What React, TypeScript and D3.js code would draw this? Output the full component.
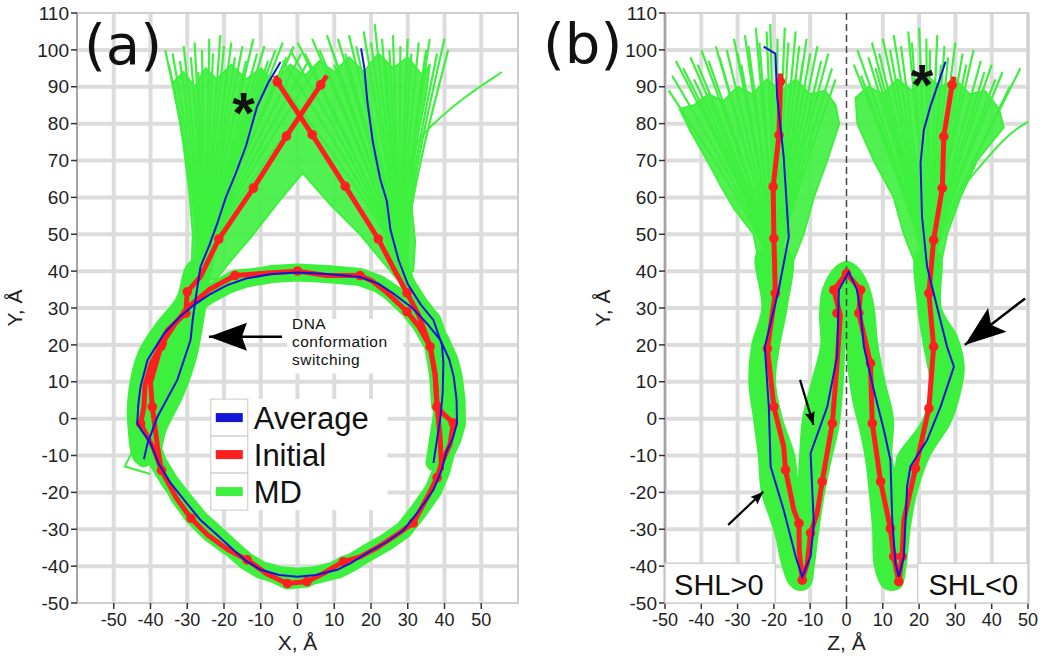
import React from 'react';
import * as d3 from 'd3';

type P = [number, number];

// ---- axes / ticks ----
const xTicksA = [-50, -40, -30, -20, -10, 0, 10, 20, 30, 40, 50];
const zTicksB = [-50, -40, -30, -20, -10, 0, 10, 20, 30, 40, 50];
const yTicks = [-50, -40, -30, -20, -10, 0, 10, 20, 30, 40, 50, 60, 70, 80, 90, 100, 110];
const legendLabels = ['Average', 'Initial', 'MD'];

// ---- panel (a): X-Y projection ----
const ringAvgA: P[] = [
  [0, 39.6], [8, 39.2], [17, 38.4], [22, 36.6], [26, 34], [31.5, 29.8], [35.5, 25.5], [38.9, 21.3],
  [41.3, 16], [42.5, 11.4], [43.3, 5], [43.4, -1.3], [42.2, -5.5], [40.5, -9], [39.2, -14], [37, -19.3],
  [33, -25], [28.9, -30.2], [24, -33.6], [19, -36.4], [14.5, -39.2], [10.8, -41], [5, -42.4], [0, -42.9],
  [-5, -42.4], [-10, -41], [-14, -38.6], [-17.4, -35.6], [-22, -31.4], [-26.4, -27.5], [-30.5, -22.5],
  [-34.5, -17.5], [-37.8, -12.2], [-40, -6.6], [-42.6, -3], [-43.6, -1.2], [-43.3, 4], [-42.7, 8.7],
  [-40.8, 15.9], [-36.3, 23.1], [-32, 27.6], [-28.2, 30.8], [-24, 33.6], [-19.1, 36.2], [-14, 38], [-7, 39.2],
];
const ringInitA: P[] = [
  [0, 40], [8, 38.8], [17, 38.8], [20, 37.5], [24, 34.5], [29.8, 29], [33, 25], [36.1, 19.5], [37.4, 12],
  [38, 3.2], [40, 1], [42.4, -1.2], [41.5, -7], [39.2, -12], [38, -16], [35.5, -21], [31.5, -28.3],
  [27, -31.5], [22, -34.8], [17, -37.5], [12.5, -38.8], [7, -42], [2.6, -44.2], [-2.8, -44.7], [-8, -42.3],
  [-13.7, -38.3], [-19, -35.5], [-24.5, -31.5], [-29, -27], [-33, -21.5], [-37, -14], [-39.2, -8],
  [-42.7, -1.3], [-41.8, 3], [-41.5, 9], [-39.8, 15], [-36.8, 20.4], [-33.5, 25.5], [-29.5, 30.5],
  [-24, 35], [-17, 38.8], [-8, 39.5],
];
const ringInitDotsA: P[] = [
  [0, 40], [17, 38.8], [-17, 38.8], [29.8, 29], [36.1, 19.5], [38, 3.2], [42.4, -1.2], [38, -16],
  [31.5, -28.3], [12.5, -38.8], [2.6, -44.2], [-2.8, -44.7], [-13.7, -38.3], [-29, -27], [-37, -14],
  [-42.7, -1.3], [-36.8, 20.4],
];
const armInitLeftA: P[] = [
  [8, 93], [6.3, 90.5], [-3, 76.6], [-12, 62.5], [-21.4, 48.7], [-26.4, 38.5], [-30, 34.4], [-30.4, 28.6],
  [-35.4, 24], [-37.2, 19.5], [-40, 9.7], [-39.5, 3.2], [-38.1, -7.6], [-37, -14],
];
const armInitRightA: P[] = [
  [-6, 93], [-5.5, 91.3], [4, 77], [13, 63], [22, 48.7], [26, 41], [29.8, 34.1], [33, 28], [36.1, 19.5],
  [37.5, 12], [38, 3.2], [38.8, -5], [39.2, -14],
];
const armInitDotsA: P[] = [
  [6.3, 90.5], [-3, 76.6], [-12, 62.5], [-21.4, 48.7], [-30, 34.4], [-30.4, 28.6], [-37.2, 19.5], [-39.5, 3.2],
  [-5.5, 91.3], [4, 77], [13, 63], [22, 48.7], [29.8, 34.1], [38, 3.2],
];
const armAvgLeftA: P[] = [
  [-4.6, 96.7], [-8, 91], [-11, 84.6], [-14, 74], [-16.8, 66.5], [-19.5, 60], [-21.8, 53], [-24, 47],
  [-26.4, 41.2], [-27.5, 34], [-28.5, 27], [-29.1, 21.3], [-32.7, 10.5], [-38.1, 0.5], [-40.8, -6.7], [-41.8, -11],
];
const armAvgRightA: P[] = [
  [17.3, 100.4], [18.2, 95], [19, 86], [20.5, 75], [22.5, 65], [24.3, 59], [25.3, 51.2], [27.5, 43],
  [30, 36.5], [33.5, 31], [37, 26.7], [39.3, 20], [39.7, 15], [39.5, 7], [38.9, 0.4], [37, -12],
];
// MD spread between ring and left arm
const mdArmLeftA: P[] = [
  [-44, -12], [-46.3, -2], [-46, 8], [-43.5, 18], [-38.5, 26], [-33, 33], [-30, 42], [-23, 45], [-24, 36],
  [-25.5, 26], [-27.5, 16], [-31, 6], [-35.5, -3], [-38.5, -12],
];
// dense part of the two linker fans (outline, with the white gap below the crossing)
const mdFanA: P[] = [
  [-29, 36], [-28.5, 50], [-29.5, 62], [-31, 74], [-32.5, 84], [-34, 91], [-31, 94], [-28, 90], [-25, 95],
  [-22, 92], [-18, 96], [-14, 92], [-10, 95], [-6, 91], [-2, 96], [2, 93], [6, 97], [10, 94], [14, 98],
  [18, 94], [22, 99], [26, 95], [30, 98], [34, 93], [36, 96], [35, 88], [33, 78], [31.5, 68], [31, 58],
  [32, 48], [31.5, 40], [27, 38], [22, 44], [17, 50], [9, 58], [1.4, 66.6], [-5, 59], [-12, 50], [-18, 43],
  [-22, 38],
];
const mdOutlierA: P[] = [[-43, -5], [-47, -13], [-40, -15]];
const mdStrayA: P[] = [[30, 68], [32.5, 75.6], [37, 80], [45, 87], [55.6, 94]];
// MD fans: strands from the arm base to the tips
const fanBaseLeftA: P[] = [[-31, 28], [-25, 48]];
const fanBaseRightA: P[] = [[32, 28], [27.5, 48]];
const fanTipsLeftA: P[] = [
  [-36, 100], [-35, 96], [-34, 99], [-32, 97], [-31, 101], [-29, 98], [-28, 102], [-26, 100], [-24, 103],
  [-23, 99], [-21, 104], [-20, 101], [-18, 102], [-17, 98], [-15, 101], [-14, 97], [-12, 103], [-11, 99],
  [-9, 101], [-8, 97], [-6, 100], [-4, 102], [-3, 98], [-1, 101], [1, 99], [3, 97], [5, 95], [8, 93],
  [-19, 95], [-27, 94], [-10, 94],
];
const fanTipsRightA: P[] = [
  [-6, 93], [-4, 97], [-2, 100], [0, 102], [2, 99], [4, 103], [6, 100], [8, 104], [9, 101], [11, 103],
  [13, 99], [14, 104], [16, 101], [18, 105], [20, 102], [21, 107], [23, 103], [25, 100], [26, 104],
  [28, 101], [30, 103], [31, 99], [33, 102], [35, 100], [36, 103], [38, 99], [40, 103], [41, 100],
  [10, 96], [24, 97],
];

// ---- panel (b): Z-Y projection ----
const avgB: P[] = [
  [-22.8, 100.9], [-19.6, 99], [-19.1, 87.3], [-17.3, 71], [-15.9, 49.3], [-18.7, 34.9], [-22.5, 19.5],
  [-21.4, 3.2], [-20.9, -13], [-17.3, -24.8], [-14, -37.4], [-12.2, -42.9], [-9.9, -37.4], [-9, -28.4],
  [-9.9, -9.4], [-5.3, 3.2], [-2.6, 16.8], [-2.1, 34.9], [0.6, 39.8], [2.9, 34.9], [3.9, 28.6], [4.8, 19.5],
  [7.5, 7.8], [10.3, -3.1], [12.1, -11.2], [12.6, -27.5], [13.5, -39.2], [14.4, -42.9], [15.8, -37.4],
  [16.7, -18.4], [17.6, -13], [22.2, -5.8], [25.9, 3.2], [29.6, 14.1], [27.7, 19.5], [23.1, 37.6],
  [22.2, 41.2], [20.8, 54.8], [20.4, 69.2], [21.3, 78.3], [23.1, 84.6], [27.3, 96.8],
];
const initB: P[] = [
  [-18.2, 93.6], [-18.2, 91.4], [-18.6, 76.9], [-20.2, 62.9], [-20, 48.9], [-19.6, 34], [-21.8, 19],
  [-20, 3.2], [-17.3, -7.6], [-16.8, -13.9], [-14.5, -24.8], [-13.1, -28.4], [-13, -36], [-12.2, -43.8],
  [-10.8, -39.2], [-9.9, -31], [-8.1, -25.7], [-6.7, -17.1], [-3.9, -1.3], [-2.6, 15], [-1.7, 28],
  [-3.5, 34.9], [0, 39.4], [3.9, 34.9], [3.4, 28.6], [6.6, 15], [7.1, -1.3], [9.4, -17.1], [12.1, -29.8],
  [13, -37.4], [14.4, -44.2], [15.3, -37.4], [15.8, -27.5], [19, -13.5], [22.7, 2.8], [24, 19.5],
  [22.7, 34], [24, 48.4], [26.4, 62.5], [26.8, 76.5], [29.1, 90.5], [29.6, 92.7],
];
const initDotsB: P[] = [
  [-18.2, 91.4], [-18.6, 76.9], [-20.2, 62.9], [-20, 48.9], [-19.6, 34], [-21.8, 19], [-20, 3.2],
  [-16.8, -13.9], [-13.1, -28.4], [-12.2, -43.8], [-9.9, -31], [-6.7, -17.1], [-3.9, -1.3], [-3.5, 34.9],
  [-2.6, 28.6], [0, 39.4], [3.9, 34.9], [3.4, 28.6], [6.6, 15], [7.1, -1.3], [9.4, -17.1], [12.1, -29.8],
  [13, -37.4], [14.4, -44.2], [15.3, -37.4], [19, -13.5], [22.7, 2.8], [24, 19.5], [22.7, 34], [24, 48.4],
  [26.4, 62.5], [26.8, 76.5], [29.1, 90.5],
];
// MD envelope of the lower W-shaped part
const mdBodyB: P[] = [
  [-24.5, 45], [-23.2, 30], [-26, 20], [-26.8, 10], [-25.5, 0], [-24.2, -10], [-23.3, -20], [-21, -27],
  [-19.4, -32], [-17.6, -40], [-15.5, -45], [-12.5, -46.5], [-10, -45], [-9, -40], [-8, -32], [-6.5, -22],
  [-4.5, -12], [-2.2, -2], [-1, 10], [-0.3, 24], [0.5, 14], [1.8, 5], [4, -4], [5.5, -12], [6.4, -20],
  [7.3, -30], [7.8, -40], [10, -45.5], [12.5, -46.5], [15, -45.5], [16.3, -40], [17.4, -30], [19.3, -20],
  [22.9, -10], [28.6, -1], [31.5, 8], [32.3, 14], [30.5, 22], [26, 30], [25.5, 45], [19.5, 45], [19.5, 32],
  [21.3, 20], [23, 10], [21.3, 0], [14.2, -10], [13.3, -14], [12.4, -10], [12.8, 0], [10.5, 10], [8.5, 20],
  [7.5, 30], [6, 36], [3, 41], [0, 42.5], [-3, 41], [-6.5, 35], [-7.3, 28], [-7, 20], [-9.5, 10], [-12, 0],
  [-12.8, -10], [-13.4, -18], [-14.4, -10], [-17.8, 0], [-19.7, 10], [-18.5, 20], [-16.5, 30], [-15.5, 45],
];
// dense part of the fans
const mdFanLeftB: P[] = [
  [-24, 42], [-25.6, 50], [-31, 57], [-34, 62], [-38.4, 70], [-43, 78], [-46, 84], [-42, 85], [-38, 88],
  [-34, 86], [-30, 90], [-26, 88], [-22, 92], [-18, 89], [-14, 92], [-10, 88], [-6, 89], [-3, 85], [-2, 80],
  [-5.3, 70], [-9, 60], [-11.8, 50], [-15, 42],
];
const mdFanRightB: P[] = [
  [19, 42], [15.8, 50], [13, 60], [7.5, 70], [3, 80], [2.5, 87], [6, 90], [10, 88], [14, 92], [18, 89],
  [22, 93], [26, 90], [30, 92], [34, 88], [38, 89], [42, 84], [43.3, 79], [36, 70], [31.4, 60], [27.7, 50],
  [26, 42],
];
const mdStrayB: P[] = [[33, 64], [39, 71], [45, 77.5], [50, 80.5]];
const fanBaseLeftB: P[] = [[-20, 30], [-19.5, 45]];
const fanBaseRightB: P[] = [[22.5, 30], [22.5, 45]];
const fanTipsLeftB: P[] = [
  [-49, 89], [-48, 93], [-47, 97], [-45, 95], [-43, 98], [-41, 96], [-40, 100], [-38, 97], [-36, 101],
  [-35, 98], [-33, 100], [-31, 103], [-30, 99], [-28, 104], [-27, 101], [-25, 106], [-24, 102], [-22, 105],
  [-21, 107], [-19, 103], [-17, 106], [-16, 102], [-14, 105], [-13, 101], [-11, 103], [-10, 99], [-8, 101],
  [-7, 97], [-5, 99], [-4, 95], [-3, 92], [-12, 97], [-29, 96], [-42, 92],
];
const fanTipsRightB: P[] = [
  [2, 96], [3, 100], [4, 93], [6, 98], [7, 102], [9, 99], [10, 103], [12, 100], [13, 104], [15, 101],
  [17, 105], [18, 102], [20, 106], [22, 103], [23, 100], [25, 104], [27, 101], [28, 98], [30, 102],
  [32, 99], [33, 96], [35, 100], [37, 97], [38, 94], [40, 96], [41, 92], [43, 94], [45, 90], [47.9, 95],
  [8, 95], [26, 96],
];

const GREEN = '#3ef03e';
const RED = '#ff1f1f';
const BLUE = '#1515d8';
const GRID = '#dcdcdc';
const FONT = 'Liberation Sans, Arial, sans-serif';

const y = d3.scaleLinear().domain([-50, 110]).range([603, 13]);
const xA = d3.scaleLinear().domain([-60, 60]).range([77, 518]);
const zB = d3.scaleLinear().domain([-50, 50]).range([665, 1028]);

function arrowHead(tip: P, tail: P, len: number, half: number, notch: number) {
  const dx = tail[0] - tip[0];
  const dy = tail[1] - tip[1];
  const l = Math.hypot(dx, dy);
  const ux = dx / l, uy = dy / l;
  const px = -uy, py = ux;
  const b = [tip[0] + ux * len, tip[1] + uy * len];
  const n = [tip[0] + ux * notch, tip[1] + uy * notch];
  return `M${tip[0]},${tip[1]}L${b[0] + px * half},${b[1] + py * half}L${n[0]},${n[1]}L${b[0] - px * half},${b[1] - py * half}Z`;
}

function Arrow({ tip, tail, len, half, notch, width }: { tip: P; tail: P; len: number; half: number; notch: number; width: number }) {
  return (
    <g>
      <line x1={tail[0]} y1={tail[1]} x2={tip[0]} y2={tip[1]} stroke="#000" strokeWidth={width} />
      <path d={arrowHead(tip, tail, len, half, notch)} fill="#000" />
    </g>
  );
}

function Frame({ x, ticks, gridX, title, ylabelX }: { x: any; ticks: number[]; gridX: number[]; title: string; ylabelX: number }) {
  const [x0, x1] = x.range();
  return (
    <g>
      {gridX.map((v) => (
        <line key={'gx' + v} x1={x(v)} x2={x(v)} y1={y(110)} y2={y(-50)} stroke={GRID} strokeWidth={4} />
      ))}
      {yTicks.slice(1, -1).map((v) => (
        <line key={'gy' + v} x1={x0} x2={x1} y1={y(v)} y2={y(v)} stroke={GRID} strokeWidth={4} />
      ))}
      <rect x={x0} y={y(110)} width={x1 - x0} height={y(-50) - y(110)} fill="none" stroke="#cfcfcf" strokeWidth={2} />
      <line x1={x0} x2={x0} y1={y(110)} y2={y(-50)} stroke="#888" strokeWidth={1.2} />
      {yTicks.map((v) => (
        <g key={'yt' + v}>
          <line x1={x0 - 6} x2={x0} y1={y(v)} y2={y(v)} stroke="#333" strokeWidth={1.5} />
          <text x={x0 - 8} y={y(v)} dy="0.35em" textAnchor="end" fontSize={19} fontFamily={FONT} fill="#222">{v}</text>
        </g>
      ))}
      {ticks.map((v) => (
        <g key={'xt' + v}>
          <line x1={x(v)} x2={x(v)} y1={y(-50)} y2={y(-50) + 6} stroke="#333" strokeWidth={1.5} />
          <text x={x(v)} y={626} textAnchor="middle" fontSize={18} fontFamily={FONT} fill="#222">{v}</text>
        </g>
      ))}
      <text x={(x0 + x1) / 2} y={650} textAnchor="middle" fontSize={21} fontFamily={FONT} fill="#222">{title}</text>
      <text transform={`translate(${ylabelX},${(y(110) + y(-50)) / 2}) rotate(-90)`} textAnchor="middle" fontSize={21} fontFamily={FONT} fill="#222">Y, Å</text>
    </g>
  );
}

export default function App() {
  const lineA = d3.line<P>().x((d) => xA(d[0])).y((d) => y(d[1]));
  const ringA = d3.line<P>().x((d) => xA(d[0])).y((d) => y(d[1])).curve(d3.curveLinearClosed);
  const blobA = d3.line<P>().x((d) => xA(d[0])).y((d) => y(d[1])).curve(d3.curveCatmullRomClosed);
  const strandA = d3.line<P>().x((d) => xA(d[0])).y((d) => y(d[1])).curve(d3.curveBasis);
  const lineB = d3.line<P>().x((d) => zB(d[0])).y((d) => y(d[1]));
  const blobB = d3.line<P>().x((d) => zB(d[0])).y((d) => y(d[1])).curve(d3.curveCatmullRomClosed);
  const polyB = d3.line<P>().x((d) => zB(d[0])).y((d) => y(d[1])).curve(d3.curveLinearClosed);
  const strandB = d3.line<P>().x((d) => zB(d[0])).y((d) => y(d[1])).curve(d3.curveBasis);

  const legendRows = [BLUE, RED, GREEN];
  const legendTop = y(5.3);
  const rowH = 37;

  return (
    <svg width={1050} height={660} style={{ position: 'absolute', left: 0, top: 0, background: '#fff' }}>
      {/* ---------- panel (a) ---------- */}
      <Frame x={xA} ticks={xTicksA} gridX={xTicksA} title="X, Å" ylabelX={22} />
      <g>
        <path d={ringA(ringAvgA) || ''} fill="none" stroke={GREEN} strokeWidth={18} strokeLinejoin="round" />
        <path d={ringA(ringInitA) || ''} fill="none" stroke={GREEN} strokeWidth={12} strokeLinejoin="round" />
        <path d={blobA(mdArmLeftA) || ''} fill={GREEN} />
        <path d={ringA(mdFanA) || ''} fill={GREEN} fillOpacity={0.9} stroke={GREEN} strokeWidth={2} strokeLinejoin="round" />
        <path d={lineA(armAvgLeftA.slice(5)) || ''} fill="none" stroke={GREEN} strokeWidth={16} strokeLinecap="round" strokeLinejoin="round" />
        <path d={lineA(armAvgRightA.slice(6)) || ''} fill="none" stroke={GREEN} strokeWidth={16} strokeLinecap="round" strokeLinejoin="round" />
        <path d={lineA(mdOutlierA) || ''} fill="none" stroke={GREEN} strokeWidth={2} />
        <path d={strandA(mdStrayA) || ''} fill="none" stroke={GREEN} strokeWidth={2} />
        {fanTipsLeftA.map((t, i) => (
          <path key={'fla' + i} d={strandA([fanBaseLeftA[0], fanBaseLeftA[1], t]) || ''} fill="none" stroke={GREEN} strokeWidth={2.2} />
        ))}
        {fanTipsRightA.map((t, i) => (
          <path key={'fra' + i} d={strandA([fanBaseRightA[0], fanBaseRightA[1], t]) || ''} fill="none" stroke={GREEN} strokeWidth={2.2} />
        ))}
      </g>
      <g>
        <path d={ringA(ringInitA) || ''} fill="none" stroke={RED} strokeWidth={5} strokeLinejoin="round" />
        <path d={lineA(armInitLeftA) || ''} fill="none" stroke={RED} strokeWidth={5} strokeLinejoin="round" />
        <path d={lineA(armInitRightA) || ''} fill="none" stroke={RED} strokeWidth={5} strokeLinejoin="round" />
        {[...ringInitDotsA, ...armInitDotsA].map((d, i) => (
          <circle key={'rda' + i} cx={xA(d[0])} cy={y(d[1])} r={4.8} fill={RED} />
        ))}
      </g>
      <g>
        <path d={ringA(ringAvgA) || ''} fill="none" stroke={BLUE} strokeWidth={2} />
        <path d={lineA(armAvgLeftA) || ''} fill="none" stroke={BLUE} strokeWidth={2} />
        <path d={lineA(armAvgRightA) || ''} fill="none" stroke={BLUE} strokeWidth={2} />
      </g>
      {/* legend */}
      <rect x={xA(-23.6)} y={legendTop} width={xA(24.5) - xA(-23.6)} height={rowH * 3} fill="#fff" />
      {legendRows.map((c, i) => (
        <g key={'lg' + i}>
          <rect x={xA(-23.6)} y={legendTop + i * rowH} width={37} height={rowH} fill="#fff" stroke="#c8c8c8" strokeWidth={1} />
          <line x1={xA(-23.6) + 5} x2={xA(-23.6) + 32} y1={legendTop + i * rowH + rowH / 2} y2={legendTop + i * rowH + rowH / 2} stroke={c} strokeWidth={9} />
          <text x={xA(-23.6) + 43} y={legendTop + i * rowH + rowH / 2 + 11} fontSize={31} fontFamily={FONT} fill="#111">{legendLabels[i]}</text>
        </g>
      ))}
      {/* annotation */}
      <rect x={xA(-2.8)} y={y(27)} width={xA(28.8) - xA(-2.8)} height={y(12.2) - y(27)} fill="#fff" />
      <text x={xA(-1.5)} y={329} fontSize={15.5} letterSpacing={0.5} fontFamily={FONT} fill="#111">
        <tspan x={xA(-1.5)}>DNA</tspan>
        <tspan x={xA(-1.5)} dy={18}>conformation</tspan>
        <tspan x={xA(-1.5)} dy={18}>switching</tspan>
      </text>
      <Arrow tip={[xA(-24.1), y(22.2)]} tail={[xA(-4.2), y(22.2)]} len={38} half={14} notch={33} width={2.5} />
      <text x={xA(-14.7)} y={y(86.4) + 33} textAnchor="middle" fontSize={58} fontWeight="bold" fontFamily={FONT} fill="#111">*</text>
      <text x={84} y={64} fontSize={56} fontFamily="DejaVu Sans, sans-serif" fill="#111">(a)</text>

      {/* ---------- panel (b) ---------- */}
      <Frame x={zB} ticks={zTicksB} gridX={zTicksB.filter((v) => v !== 0)} title="Z, Å" ylabelX={610} />
      <g>
        <path d={blobB(mdBodyB) || ''} fill={GREEN} stroke={GREEN} strokeWidth={2} />
        <path d={polyB(mdFanLeftB) || ''} fill={GREEN} fillOpacity={0.9} stroke={GREEN} strokeWidth={2} strokeLinejoin="round" />
        <path d={polyB(mdFanRightB) || ''} fill={GREEN} fillOpacity={0.9} stroke={GREEN} strokeWidth={2} strokeLinejoin="round" />
        <path d={strandB(mdStrayB) || ''} fill="none" stroke={GREEN} strokeWidth={2} />
        {fanTipsLeftB.map((t, i) => (
          <path key={'flb' + i} d={strandB([fanBaseLeftB[0], fanBaseLeftB[1], t]) || ''} fill="none" stroke={GREEN} strokeWidth={2.2} />
        ))}
        {fanTipsRightB.map((t, i) => (
          <path key={'frb' + i} d={strandB([fanBaseRightB[0], fanBaseRightB[1], t]) || ''} fill="none" stroke={GREEN} strokeWidth={2.2} />
        ))}
      </g>
      <line x1={zB(0)} x2={zB(0)} y1={y(110)} y2={y(-50)} stroke="#444" strokeWidth={1.5} strokeDasharray="7,4" />
      <path d={lineB(initB) || ''} fill="none" stroke={RED} strokeWidth={5} strokeLinejoin="round" />
      {initDotsB.map((d, i) => (
        <circle key={'rdb' + i} cx={zB(d[0])} cy={y(d[1])} r={4.8} fill={RED} />
      ))}
      <path d={lineB(avgB) || ''} fill="none" stroke={BLUE} strokeWidth={2} />
      <rect x={zB(-50)} y={y(-39.2)} width={zB(-19.6) - zB(-50)} height={y(-50) - y(-39.2)} fill="#fff" stroke="#d0d0d0" strokeWidth={1.5} />
      <rect x={zB(19.6)} y={y(-39.2)} width={zB(50) - zB(19.6)} height={y(-50) - y(-39.2)} fill="#fff" stroke="#d0d0d0" strokeWidth={1.5} />
      <text x={zB(-47.5)} y={595} fontSize={29} fontFamily={FONT} fill="#111">SHL&gt;0</text>
      <text x={zB(22.6)} y={595} fontSize={29} fontFamily={FONT} fill="#111">SHL&lt;0</text>
      <Arrow tip={[zB(32.6), y(20)]} tail={[zB(49.2), y(32.6)]} len={41} half={15} notch={33} width={2.5} />
      <Arrow tip={[zB(-9.1), y(-1.7)]} tail={[zB(-12.8), y(10.5)]} len={13} half={5} notch={11} width={2.2} />
      <Arrow tip={[zB(-22.9), y(-19.8)]} tail={[zB(-32.6), y(-28.8)]} len={13} half={5} notch={11} width={2.2} />
      <text x={zB(20.8)} y={y(94.1) + 33} textAnchor="middle" fontSize={58} fontWeight="bold" fontFamily={FONT} fill="#111">*</text>
      <text x={543} y={63} fontSize={56} fontFamily="DejaVu Sans, sans-serif" fill="#111">(b)</text>
    </svg>
  );
}
